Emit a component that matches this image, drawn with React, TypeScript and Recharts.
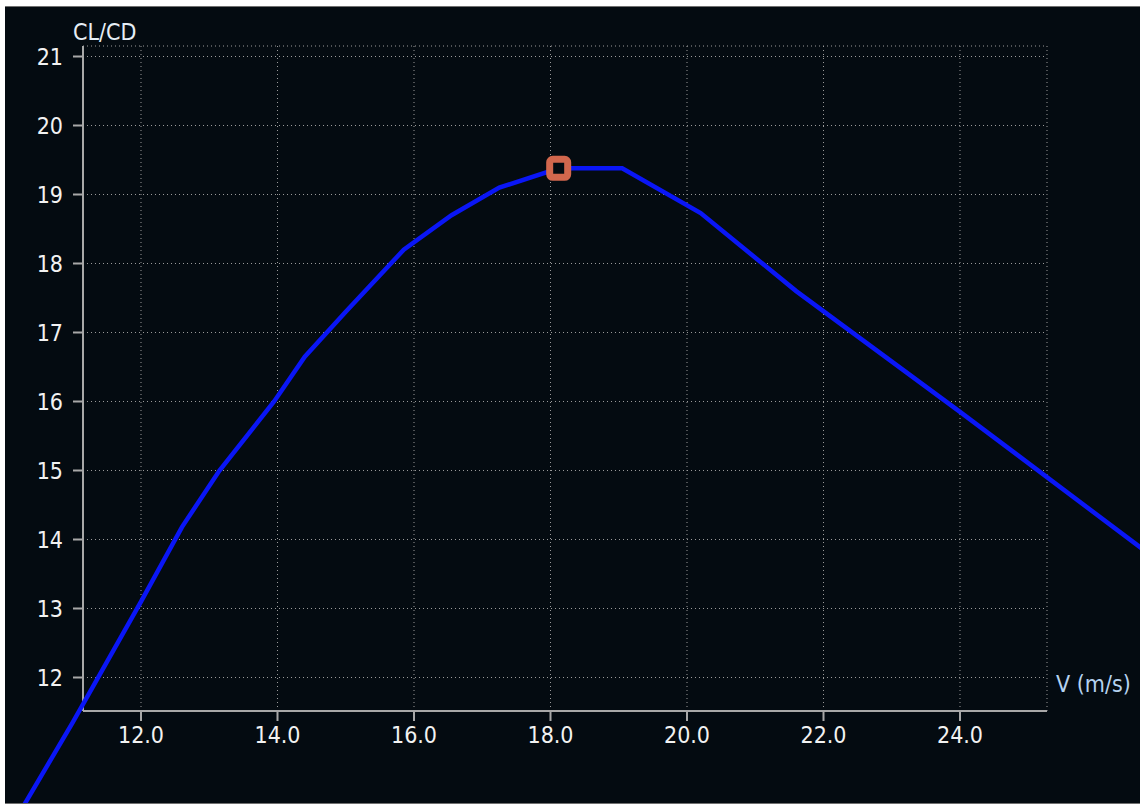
import { LineChart, Line, XAxis, YAxis, CartesianGrid, ReferenceDot, Label } from "recharts";

// polar curve: speed (m/s) vs CL/CD
const speeds = [10.0, 11.0, 12.0, 12.6, 13.15, 13.95, 14.4, 15.0, 15.85, 16.55, 17.25, 18.12, 19.05, 20.2, 21.6, 24.0, 27.0];
const ratios = [9.67, 11.35, 13.1, 14.18, 15.0, 16.0, 16.65, 17.3, 18.2, 18.7, 19.1, 19.38, 19.38, 18.73, 17.6, 15.85, 13.62];

const speedTicks = [12, 14, 16, 18, 20, 22, 24];
const ratioTicks = [12, 13, 14, 15, 16, 17, 18, 19, 20, 21];

const selectedSpeed = 18.12;
const selectedRatio = 19.38;

const data = speeds.map((v, i) => ({ v, cd: ratios[i] }));

// frame / scale layout (page pixels)
const W = 1135;
const H = 796;
const ORIGIN_X = 5;
const ORIGIN_Y = 7;
const PLOT_L = 83;
const PLOT_R = 1047;
const PLOT_T = 46;
const PLOT_B = 711;
const vAt = (px: number) => 12 + (px - 141) / 68.25;
const cdAt = (py: number) => 12 + (677.5 - py) / 69;

const FONT = "'DejaVu Sans Condensed', 'DejaVu Sans', sans-serif";
const FS = 23;
const BG = "#040b11";
const AXIS = "#a8a8a8";
const Y_W = 60;
const X_H = 40;

export default function App() {
  return (
    <div
      style={{
        position: "absolute",
        left: ORIGIN_X,
        top: ORIGIN_Y - 1,
        width: W,
        height: H,
        background: BG,
        borderTop: "1px solid #707070",
        borderBottom: "1px solid #707070",
      }}
    >
      <div style={{ position: "absolute", left: 0, top: 0 }}>
        <LineChart
          width={W}
          height={H}
          data={data}
          margin={{
            top: PLOT_T - ORIGIN_Y,
            left: PLOT_L - ORIGIN_X - Y_W,
            right: ORIGIN_X + W - PLOT_R,
            bottom: ORIGIN_Y + H - PLOT_B - X_H,
          }}
        >
          <CartesianGrid stroke="#9a9a9a" strokeDasharray="1 3" />
          <XAxis
            type="number"
            dataKey="v"
            domain={[vAt(PLOT_L), vAt(PLOT_R)]}
            allowDataOverflow
            ticks={speedTicks}
            interval={0}
            height={X_H}
            tickSize={10}
            tickMargin={6}
            tickFormatter={(t: number) => t.toFixed(1)}
            axisLine={{ stroke: AXIS, strokeWidth: 2 }}
            tickLine={{ stroke: AXIS, strokeWidth: 2 }}
            tick={{ fill: "#f2f2f2", fontSize: FS, fontFamily: FONT }}
          >
            <Label
              content={(props: any) => {
                const vb = props.viewBox;
                return (
                  <text x={vb.x + vb.width + 9} y={vb.y - 19} fill="#b4d2f0" fontSize={FS} fontFamily={FONT}>
                    V (m/s)
                  </text>
                );
              }}
            />
          </XAxis>
          <YAxis
            type="number"
            domain={[cdAt(PLOT_B), cdAt(PLOT_T)]}
            allowDataOverflow
            ticks={ratioTicks}
            interval={0}
            width={Y_W}
            tickSize={10}
            tickMargin={10}
            axisLine={{ stroke: AXIS, strokeWidth: 2 }}
            tickLine={{ stroke: AXIS, strokeWidth: 2 }}
            tick={{ fill: "#f2f2f2", fontSize: FS, fontFamily: FONT }}
          >
            <Label
              content={(props: any) => {
                const vb = props.viewBox;
                return (
                  <text x={vb.x + vb.width - 10} y={vb.y - 6} fill="#e6eef6" fontSize={FS} fontFamily={FONT}>
                    CL/CD
                  </text>
                );
              }}
            />
          </YAxis>
        </LineChart>
      </div>
      <div style={{ position: "absolute", left: 0, top: 0 }}>
        <LineChart width={W} height={H} data={data} margin={{ top: 0, left: 0, right: 0, bottom: 0 }}>
          <XAxis
            hide
            type="number"
            dataKey="v"
            domain={[vAt(ORIGIN_X), vAt(ORIGIN_X + W)]}
            allowDataOverflow
          />
          <YAxis hide type="number" domain={[cdAt(ORIGIN_Y + H), cdAt(ORIGIN_Y)]} allowDataOverflow />
          <Line
            type="linear"
            dataKey="cd"
            stroke="#0a16f6"
            strokeWidth={4.5}
            dot={false}
            isAnimationActive={false}
          />
          <ReferenceDot
            x={selectedSpeed}
            y={selectedRatio}
            r={12}
            shape={(p: any) => (
              <rect
                x={p.cx - 9}
                y={p.cy - 9}
                width={18}
                height={18}
                rx={3}
                fill={BG}
                stroke="#d2674d"
                strokeWidth={7}
              />
            )}
          />
        </LineChart>
      </div>
    </div>
  );
}
